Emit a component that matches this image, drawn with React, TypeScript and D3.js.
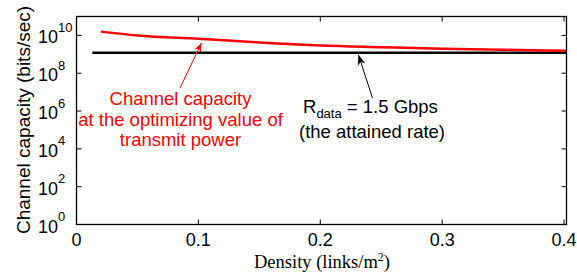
import React from "react";
import * as d3 from "d3";

const densities = [0.02, 0.05, 0.1, 0.15, 0.2, 0.25, 0.3, 0.35, 0.402];
const capacityLog10 = [10.2, 10.0, 9.82, 9.63, 9.47, 9.38, 9.3, 9.24, 9.19];
const rdataValue = 1.2e9;
const rdataStart = 0.013;
const xTicks = [0, 0.1, 0.2, 0.3, 0.4];
const yTickExps = [0, 2, 4, 6, 8, 10];

const W = 577, H = 273;
const left = 76.5, right = 566.5, top = 16.5, bottom = 224.5;

export default function App() {
  const x = d3.scaleLinear().domain([0, 0.402]).range([left, right]);
  const y = d3.scaleLog().domain([1, 1e11]).range([bottom, top]);
  const pts: [number, number][] = densities.map((d, i) => [d, Math.pow(10, capacityLog10[i])]);
  const line = d3.line<[number, number]>().x(d => x(d[0])).y(d => y(d[1])).curve(d3.curveMonotoneX);
  const sans = "'Liberation Sans', Arial, Helvetica, sans-serif";
  const tl = 5;
  return (
    <svg width={W} height={H} style={{ position: "absolute", left: 0, top: 0, background: "#fff" }}>
      <defs>
        <marker id="ar" viewBox="0 0 10 10" refX="10" refY="5" markerWidth="9" markerHeight="9" orient="auto" markerUnits="userSpaceOnUse">
          <path d="M0,1 L10,5 L0,9 L3,5 Z" fill="red" />
        </marker>
        <marker id="ab" viewBox="0 0 10 10" refX="10" refY="5" markerWidth="10" markerHeight="10" orient="auto" markerUnits="userSpaceOnUse">
          <path d="M0,1 L10,5 L0,9 L3,5 Z" fill="#000" />
        </marker>
      </defs>
      {xTicks.map(t => (
        <g key={"x" + t}>
          <line x1={x(t)} x2={x(t)} y1={bottom} y2={bottom - tl} stroke="#000" strokeWidth={1} />
          <line x1={x(t)} x2={x(t)} y1={top} y2={top + tl} stroke="#000" strokeWidth={1} />
          <text x={x(t)} y={246} textAnchor="middle" fontFamily={sans} fontSize={18} fill="#000">{t === 0 ? "0" : String(t)}</text>
        </g>
      ))}
      {yTickExps.map(e => (
        <g key={"y" + e}>
          <line x1={left} x2={left + tl} y1={y(Math.pow(10, e))} y2={y(Math.pow(10, e))} stroke="#000" strokeWidth={1} />
          <line x1={right} x2={right - tl} y1={y(Math.pow(10, e))} y2={y(Math.pow(10, e))} stroke="#000" strokeWidth={1} />
          <text x={38} y={y(Math.pow(10, e)) + 8} fontFamily={sans} fontSize={18} fill="#000">10<tspan fontSize={13} dy={-11.5}>{e}</tspan></text>
        </g>
      ))}
      <line x1={x(rdataStart)} x2={right} y1={y(rdataValue)} y2={y(rdataValue)} stroke="#000" strokeWidth={2.5} />
      <path d={line(pts) || ""} fill="none" stroke="red" strokeWidth={2.5} />
      <rect x={left} y={top} width={right - left} height={bottom - top} fill="none" stroke="#000" strokeWidth={1.3} />
      <line x1={180} y1={88} x2={201.5} y2={43} stroke="red" strokeWidth={1} markerEnd="url(#ar)" />
      <line x1={372.5} y1={98} x2={358.5} y2={55} stroke="#000" strokeWidth={1} markerEnd="url(#ab)" />
      <g fontFamily={sans} fontSize={18.5} fill="red" textAnchor="middle">
        <text x={180.5} y={105}>Channel capacity</text>
        <text x={180.5} y={125.5}>at the optimizing value of</text>
        <text x={180.5} y={146}>transmit power</text>
      </g>
      <g fontFamily={sans} fontSize={18.5} fill="#000">
        <text x={303} y={113}>R<tspan fontSize={13} dy={5}>data</tspan><tspan dy={-5}> = 1.5 Gbps</tspan></text>
        <text x={372} y={137.5} textAnchor="middle">(the attained rate)</text>
      </g>
      <text transform={`translate(30,${120}) rotate(-90)`} textAnchor="middle" fontFamily={sans} fontSize={19} fill="#000">Channel capacity (bits/sec)</text>
      <text x={322} y={268} textAnchor="middle" fontFamily="'Liberation Serif', 'Times New Roman', serif" fontSize={18.5} fill="#000">Density (links/m<tspan fontSize={12} dy={-7}>2</tspan><tspan dy={7}>)</tspan></text>
    </svg>
  );
}
